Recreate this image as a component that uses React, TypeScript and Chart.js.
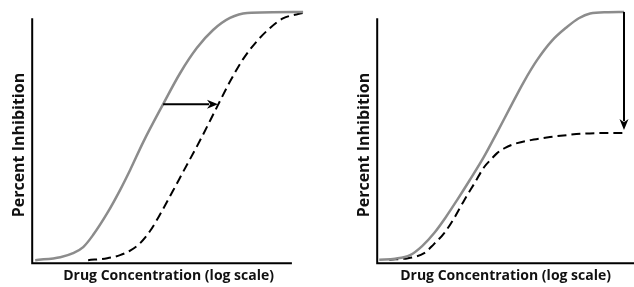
import React, { useEffect, useRef } from "react";
import { Chart, registerables } from "chart.js";

Chart.register(...registerables);

// Panel A: competitive shift (x = log concentration units, y = percent inhibition)
const leftSolidX = [0.11, 1.03, 1.5, 1.87, 2.23, 2.75, 3.22, 3.59, 4.07, 4.8, 5.42, 6.04, 6.63, 7.25, 7.88, 9.93];
const leftSolidY = [1.2, 2.4, 4.0, 6.4, 11.2, 19.9, 29.1, 37.1, 48.2, 63.3, 75.6, 85.7, 92.8, 97.6, 99.6, 100];
const leftDashX = [2.05, 2.75, 3.22, 3.59, 3.96, 4.32, 4.69, 5.16, 5.53, 6.15, 6.78, 7.25, 7.73, 8.24, 8.72, 9.19, 9.93];
const leftDashY = [1.2, 2.0, 3.2, 5.0, 8.0, 12.8, 19.5, 28.8, 36.3, 48.8, 62.3, 72.3, 81.2, 88.4, 93.6, 97.4, 99.6];
const leftArrow = { x0: 4.8, y0: 63.3, x1: 6.81, y1: 63.3 };
const leftAxisEnd = { x: 9.52, y: 97.5 };

// Panel B: non-competitive (reduced maximum)
const rightSolidX = [0.08, 0.7, 1.28, 1.75, 2.22, 2.65, 3.11, 3.6, 4.16, 4.65, 5.18, 5.7, 6.23, 6.8, 7.39, 7.85, 8.29, 9.0, 9.61];
const rightSolidY = [1.4, 1.8, 3.2, 6.8, 12.0, 18.0, 25.1, 33.0, 42.4, 51.7, 62.0, 72.0, 80.9, 88.5, 94.0, 97.5, 99.4, 99.9, 100];
const rightDashX = [0.47, 1.2, 1.83, 2.2, 2.61, 3.0, 3.39, 3.8, 4.16, 4.45, 4.67, 5.0, 5.45, 6.1, 6.73, 7.4, 8.05, 8.8, 9.61];
const rightDashY = [1.4, 2.0, 4.0, 7.5, 12.0, 18.0, 25.1, 32.0, 38.2, 41.5, 43.8, 46.0, 47.8, 49.2, 50.2, 51.0, 51.6, 51.8, 51.8];
const rightArrow = { x0: 9.61, y0: 100, x1: 9.61, y1: 53 };
const rightAxisEnd = { x: 10, y: 97.5 };

const xTitle = "Drug Concentration (log scale)";
const yTitle = "Percent Inhibition";
const yScaleMax = 94;

type Arrow = { x0: number; y0: number; x1: number; y1: number };

function pts(xs: number[], ys: number[]) {
  return xs.map((x, i) => ({ x, y: ys[i] }));
}

function makeConfig(
  solidX: number[], solidY: number[], dashX: number[], dashY: number[],
  arrow: Arrow, axisEnd: { x: number; y: number }, pad: { left: number; right: number }
): any {
  const overlay = {
    id: "overlay",
    afterDatasetsDraw(chart: any) {
      const ctx = chart.ctx;
      const xs = chart.scales.x;
      const ys = chart.scales.y;
      ctx.save();
      // axes
      ctx.strokeStyle = "#000";
      ctx.lineWidth = 2;
      ctx.lineCap = "butt";
      const ox = xs.getPixelForValue(0);
      const oy = ys.getPixelForValue(0);
      ctx.beginPath();
      ctx.moveTo(ox, ys.getPixelForValue(axisEnd.y));
      ctx.lineTo(ox, oy);
      ctx.lineTo(xs.getPixelForValue(axisEnd.x), oy);
      ctx.stroke();
      // arrow
      const ax0 = xs.getPixelForValue(arrow.x0);
      const ay0 = ys.getPixelForValue(arrow.y0);
      const ax1 = xs.getPixelForValue(arrow.x1);
      const ay1 = ys.getPixelForValue(arrow.y1);
      const ang = Math.atan2(ay1 - ay0, ax1 - ax0);
      const hl = 11, hw = 4.5;
      ctx.lineWidth = 2;
      ctx.beginPath();
      ctx.moveTo(ax0, ay0);
      ctx.lineTo(ax1 - Math.cos(ang) * hl * 0.8, ay1 - Math.sin(ang) * hl * 0.8);
      ctx.stroke();
      ctx.fillStyle = "#000";
      ctx.beginPath();
      ctx.moveTo(ax1, ay1);
      ctx.lineTo(ax1 - Math.cos(ang) * hl - Math.sin(ang) * hw, ay1 - Math.sin(ang) * hl + Math.cos(ang) * hw);
      ctx.lineTo(ax1 - Math.cos(ang) * hl * 0.7, ay1 - Math.sin(ang) * hl * 0.7);
      ctx.lineTo(ax1 - Math.cos(ang) * hl + Math.sin(ang) * hw, ay1 - Math.sin(ang) * hl - Math.cos(ang) * hw);
      ctx.closePath();
      ctx.fill();
      ctx.restore();
    },
  };
  const xFont = { family: "'Open Sans', sans-serif", size: 14, weight: "bold" as const };
  const yFont = { family: "'Open Sans', sans-serif", size: 16, weight: "bold" as const };
  return {
    type: "line",
    data: {
      datasets: [
        {
          data: pts(solidX, solidY),
          borderColor: "#8c8c8c",
          borderWidth: 2.5,
          pointRadius: 0,
          cubicInterpolationMode: "monotone",
          clip: false,
        },
        {
          data: pts(dashX, dashY),
          borderColor: "#000",
          borderWidth: 2,
          borderDash: [9, 5],
          pointRadius: 0,
          cubicInterpolationMode: "monotone",
          clip: false,
        },
      ],
    },
    options: {
      animation: false,
      responsive: false,
      events: [],
      layout: { padding: { left: pad.left, right: pad.right, top: 27, bottom: 2 } },
      plugins: { legend: { display: false }, tooltip: { enabled: false } },
      scales: {
        x: {
          type: "linear",
          min: 0,
          max: 10,
          grid: { display: false, drawTicks: false },
          border: { display: false },
          ticks: { display: false },
          title: { display: true, text: xTitle, color: "#111", font: xFont, padding: { top: 4, bottom: 1 } },
        },
        y: {
          type: "linear",
          min: 0,
          max: yScaleMax,
          grid: { display: false, drawTicks: false },
          border: { display: false },
          ticks: { display: false },
          title: { display: true, text: yTitle, color: "#111", font: yFont, padding: { top: 3, bottom: 3 } },
        },
      },
    },
    plugins: [overlay],
  };
}

function Panel(props: { cfg: any; left: number }) {
  const ref = useRef<HTMLCanvasElement | null>(null);
  useEffect(() => {
    if (!ref.current) return;
    const chart = new Chart(ref.current, props.cfg);
    return () => chart.destroy();
  }, []);
  return (
    <canvas
      ref={ref}
      width={317}
      height={287}
      style={{ position: "absolute", left: props.left, top: 0, width: 317, height: 287 }}
    />
  );
}

export default function App() {
  const leftCfg = makeConfig(leftSolidX, leftSolidY, leftDashX, leftDashY, leftArrow, leftAxisEnd, { left: 7, right: 12 });
  const rightCfg = makeConfig(rightSolidX, rightSolidY, rightDashX, rightDashY, rightArrow, rightAxisEnd, { left: 35, right: 0 });
  return (
    <div style={{ position: "absolute", left: 0, top: 0, width: 634, height: 287, background: "#fff" }}>
      <Panel cfg={leftCfg} left={0} />
      <Panel cfg={rightCfg} left={317} />
    </div>
  );
}
